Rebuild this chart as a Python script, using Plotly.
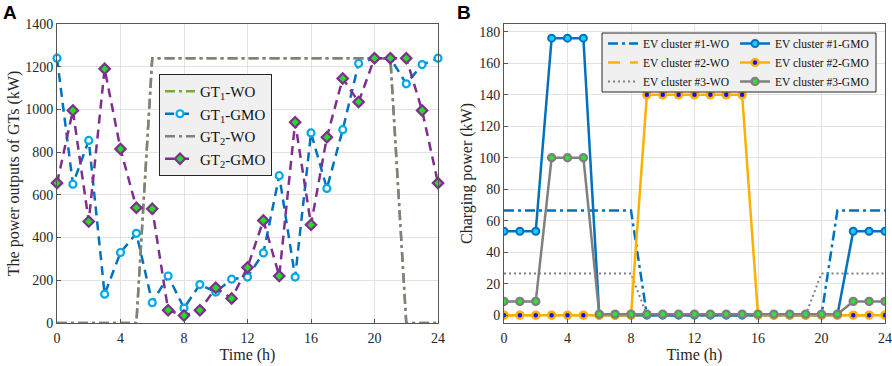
import plotly.graph_objects as go

hours = list(range(25))

# Panel A: GT outputs (kW)
gt1_wo = [0]*6 + [1240]*16 + [0]*3
gt1_gmo = [1240, 650, 855, 135, 330, 420, 95, 220, 70, 180, 145, 205, 215, 328,
           690, 215, 890, 630, 905, 1215, 1240, 1240, 1120, 1210, 1240]
gt2_wo = [0]*6 + [1240]*16 + [0]*3
gt2_gmo = [655, 995, 475, 1190, 815, 540, 535, 60, 35, 60, 165, 115, 260, 480,
           220, 940, 460, 870, 1145, 1035, 1240, 1240, 1240, 995, 655]

# Panel B: EV charging power (kW)
ev1_wo = [66.5]*9 + [0]*12 + [66.5]*4
ev1_gmo = [53.3]*3 + [176]*3 + [0]*16 + [53.3]*3
ev2_wo = [0]*25
ev2_gmo = [0]*9 + [140]*7 + [0]*9
ev3_wo = [26.5]*9 + [0]*11 + [26.5]*5
ev3_gmo = [8.7]*3 + [100]*3 + [0.6]*16 + [8.7]*3

BLUE = '#0072BD'
CYAN = '#00A8E8'
PURPLE = '#7E2F8E'
GRAY = '#808080'
GREEN = '#77AC30'
ORANGE = '#FFB000'
FONT = 'Liberation Serif'

W, H = 892, 366
ML, MR, MT, MB = 57, 7, 24, 43
PW = W - ML - MR
PH = H - MT - MB

def px2x(px):
    return (px - ML) / PW

def py2y(py):
    return (H - MB - py) / PH

fig = go.Figure()

# ---- Panel A ----
fig.add_trace(go.Scatter(x=hours, y=gt1_wo, mode='lines', name='GT<sub>1</sub>-WO',
                         line=dict(color=GREEN, width=2.5, dash='10px,4px,3px,4px'),
                         xaxis='x', yaxis='y', legend='legend', cliponaxis=False))
fig.add_trace(go.Scatter(x=hours, y=gt1_gmo, mode='lines+markers', name='GT<sub>1</sub>-GMO',
                         line=dict(color=BLUE, width=2.5, dash='9px,6px'),
                         marker=dict(symbol='circle', size=7, color='#F4FBFF',
                                     line=dict(color=CYAN, width=2.2)),
                         xaxis='x', yaxis='y', legend='legend', cliponaxis=False))
fig.add_trace(go.Scatter(x=hours, y=gt2_wo, mode='lines', name='GT<sub>2</sub>-WO',
                         line=dict(color=GRAY, width=2.5, dash='10px,4px,3px,4px'),
                         xaxis='x', yaxis='y', legend='legend', cliponaxis=False))
fig.add_trace(go.Scatter(x=hours, y=gt2_gmo, mode='lines+markers', name='GT<sub>2</sub>-GMO',
                         line=dict(color=PURPLE, width=2.5, dash='9px,6px'),
                         marker=dict(symbol='diamond', size=8, color='#22DD22',
                                     line=dict(color=PURPLE, width=2.2)),
                         xaxis='x', yaxis='y', legend='legend', cliponaxis=False))

# ---- Panel B ----
fig.add_trace(go.Scatter(x=hours, y=ev1_wo, mode='lines', name='EV cluster #1-WO',
                         line=dict(color=BLUE, width=2.5, dash='10px,4px,3px,4px'),
                         xaxis='x2', yaxis='y2', legend='legend2', legendrank=1))
fig.add_trace(go.Scatter(x=hours, y=ev3_wo, mode='lines', name='EV cluster #3-WO',
                         line=dict(color=GRAY, width=2, dash='2px,3px'),
                         xaxis='x2', yaxis='y2', legend='legend2', legendrank=3))
fig.add_trace(go.Scatter(x=hours, y=ev2_wo, mode='lines', name='EV cluster #2-WO',
                         line=dict(color=ORANGE, width=2.5, dash='12px,10px'),
                         xaxis='x2', yaxis='y2', legend='legend2', legendrank=2))
fig.add_trace(go.Scatter(x=hours, y=ev1_gmo, mode='lines+markers', name='EV cluster #1-GMO',
                         line=dict(color=BLUE, width=2.5),
                         marker=dict(symbol='circle', size=7, color='#22C8F8',
                                     line=dict(color=BLUE, width=2)),
                         xaxis='x2', yaxis='y2', legend='legend3', legendrank=1))
fig.add_trace(go.Scatter(x=hours, y=ev2_gmo, mode='lines+markers', name='EV cluster #2-GMO',
                         line=dict(color=ORANGE, width=2.5),
                         marker=dict(symbol='circle', size=7, color='#1010FF',
                                     line=dict(color=ORANGE, width=2.5)),
                         xaxis='x2', yaxis='y2', legend='legend3', legendrank=2))
fig.add_trace(go.Scatter(x=hours, y=ev3_gmo, mode='lines+markers', name='EV cluster #3-GMO',
                         line=dict(color=GRAY, width=2.5),
                         marker=dict(symbol='circle', size=7, color='#22EE22',
                                     line=dict(color=GRAY, width=2.5)),
                         xaxis='x2', yaxis='y2', legend='legend3', legendrank=3))

axis_common = dict(showline=True, mirror=True, linecolor='#555555', linewidth=1,
                   showgrid=True, gridcolor='#E3E3E3', gridwidth=1, zeroline=False,
                   ticks='inside', ticklen=4, tickcolor='#555555', automargin=False,
                   tickfont=dict(family=FONT, size=14, color='#262626'))

split_l = px2x(438)
split_r = px2x(504)

xt = dict(text='Time (h)', standoff=2, font=dict(family=FONT, size=16))

fig.update_layout(
    width=W, height=H,
    margin=dict(l=ML, r=MR, t=MT, b=MB),
    plot_bgcolor='white', paper_bgcolor='white',
    font=dict(family=FONT, color='#262626'),
    xaxis=dict(domain=[0, split_l], range=[0, 24], tickvals=list(range(0, 25, 4)),
               title=xt, anchor='y', ticklabelstandoff=2, **axis_common),
    yaxis=dict(domain=[0, 1], range=[0, 1400], tickvals=list(range(0, 1401, 200)),
               title=dict(text='The power outputs of GTs (kW)', standoff=1,
                          font=dict(family=FONT, size=16)),
               anchor='x', **axis_common),
    xaxis2=dict(domain=[split_r, 1], range=[0, 24], tickvals=list(range(0, 25, 4)),
                title=xt, anchor='y2', ticklabelstandoff=2, **axis_common),
    yaxis2=dict(domain=[0, 1], range=[-5, 185], tickvals=list(range(0, 181, 20)),
                title=dict(text='Charging power (kW)', standoff=2,
                           font=dict(family=FONT, size=16)),
                anchor='x2', **axis_common),
    legend=dict(x=px2x(159), y=py2y(74), xanchor='left', yanchor='top',
                bgcolor='#F0F0F0', bordercolor='#262626', borderwidth=1,
                font=dict(family=FONT, size=15, color='#111111'),
                itemwidth=30, tracegroupgap=0),
    legend2=dict(x=px2x(603), y=py2y(29), xanchor='left', yanchor='top',
                 bgcolor='rgba(0,0,0,0)', borderwidth=0,
                 font=dict(family=FONT, size=11.5, color='#111111'),
                 itemwidth=30, tracegroupgap=0, traceorder='normal'),
    legend3=dict(x=px2x(735), y=py2y(29), xanchor='left', yanchor='top',
                 bgcolor='rgba(0,0,0,0)', borderwidth=0,
                 font=dict(family=FONT, size=11.5, color='#111111'),
                 itemwidth=30, tracegroupgap=0, traceorder='normal'),
    showlegend=True,
    shapes=[dict(type='rect', xref='paper', yref='paper',
                 x0=px2x(602), x1=px2x(876), y0=py2y(92), y1=py2y(33),
                 fillcolor='#F0F0F0', line=dict(color='#262626', width=1), layer='above')],
    annotations=[
        dict(text='<b>A</b>', xref='paper', yref='paper', x=px2x(1), y=py2y(12),
             xanchor='left', yanchor='middle', showarrow=False,
             font=dict(family='Liberation Sans', size=19, color='black')),
        dict(text='<b>B</b>', xref='paper', yref='paper', x=px2x(455), y=py2y(12),
             xanchor='left', yanchor='middle', showarrow=False,
             font=dict(family='Liberation Sans', size=19, color='black')),
    ],
)

fig.write_html('out.html', config={'displayModeBar': False},
               post_script="document.body.style.margin='0';")
